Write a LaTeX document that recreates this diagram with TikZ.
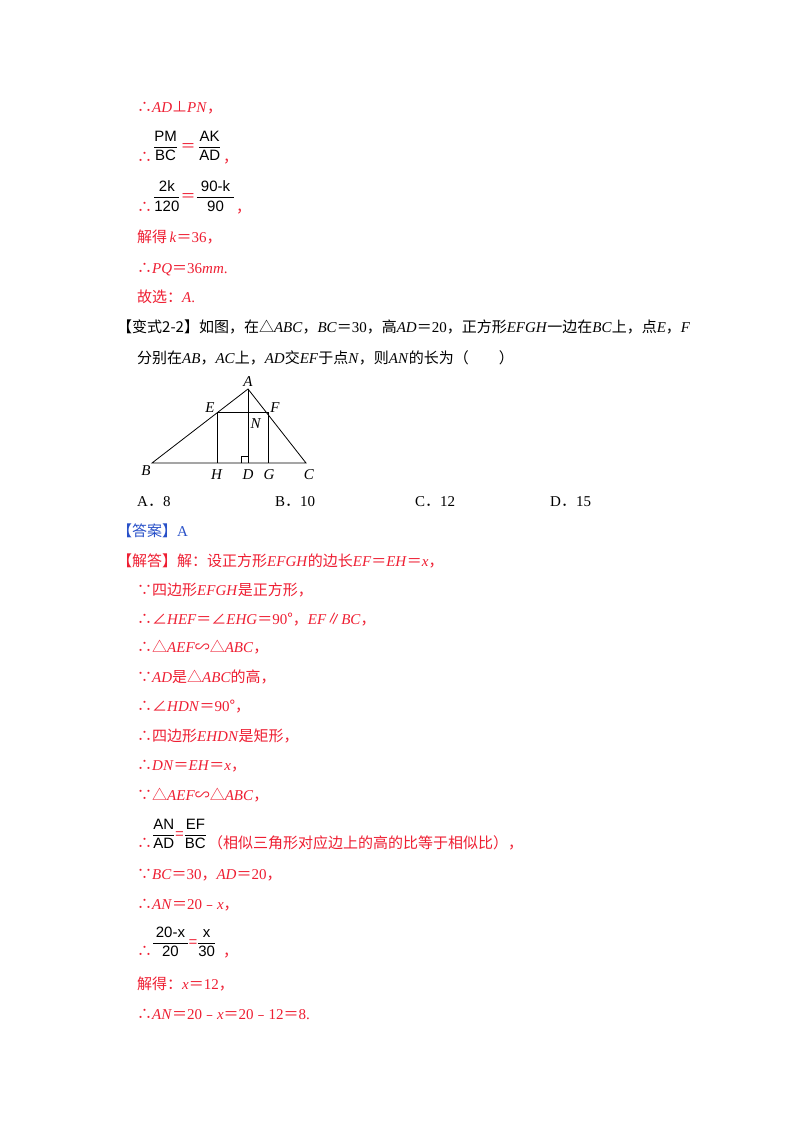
\documentclass[tikz,border=0pt]{standalone}
\usepackage{amsmath}
\usepackage{fontspec}
\setmainfont{Liberation Serif}
\newfontfamily\cjk{Noto Sans CJK SC}
\newfontfamily\fsans{Liberation Sans}
\newcommand{\C}[1]{{\cjk #1}}
\newcommand{\I}[1]{\textit{#1}}
\definecolor{ans}{RGB}{238,30,50}
\definecolor{blu}{RGB}{40,80,200}
\newcommand{\Fr}[2]{\fontsize{15}{18}\selectfont$\dfrac{\text{\fsans\fontsize{15}{18}\selectfont #1}}{\text{\fsans\fontsize{15}{18}\selectfont #2}}$}
\begin{document}
\begin{tikzpicture}[x=1pt,y=-1pt,
  txt/.style={anchor=base west,inner sep=0pt,font=\fontsize{15}{17}\selectfont},
  red/.style={txt,text=ans},
  frac/.style={inner sep=0pt,anchor=west},
  seg/.style={line width=0.8pt}]
\useasboundingbox (0,0) rectangle (800,1132);
\node[red] (l1) at (137,112) {\C{∴}\I{AD}\C{⊥}\I{PN}\C{，}};
\node[red] (l2t) at (137,162) {\C{∴}};
\node[frac] (l2f) at (153,146) {\Fr{PM}{BC}\,\textcolor{ans}{\C{＝}}\,\Fr{AK}{AD}};
\node[red] (l2c) at (223,162) {\C{，}};
\node[red] (l3t) at (137,212) {\C{∴}};
\node[frac] (l3f) at (153,196) {\Fr{\ 2k\ }{120}\textcolor{ans}{\C{＝}}\Fr{\ 90-k\ }{90}};
\node[red] (l3c) at (236,212) {\C{，}};
\node[red] (l4) at (137,242) {\C{解得}\,\I{k}\C{＝}36\C{，}};
\node[red] (l5) at (137,273) {\C{∴}\I{PQ}\C{＝}36\I{mm}.};
\node[red] (l6) at (137,302) {\C{故选：}\I{A}.};
\node[txt] (q1) at (117,332) {\C{【变式2-2】如图，在△}\I{ABC}\C{，}\I{BC}\C{＝}30\C{，高}\I{AD}\C{＝}20\C{，正方形}\I{EFGH}\C{一边在}\I{BC}\C{上，点}\I{E}\C{，}\I{F}};
\node[txt] (q2) at (137,363) {\C{分别在}\I{AB}\C{，}\I{AC}\C{上，}\I{AD}\C{交}\I{EF}\C{于点}\I{N}\C{，则}\I{AN}\C{的长为（\quad\quad）}};
\coordinate (A) at (248,389); \coordinate (B) at (152,463); \coordinate (C) at (306,463);
\coordinate (E) at (217,412); \coordinate (F) at (268,412);
\coordinate (H) at (217,463); \coordinate (G) at (268,463); \coordinate (D) at (248,463);
\draw[seg] (B) -- (A) -- (C) -- cycle;
\draw[seg] (E) -- (F) -- (G) (E) -- (H) (A) -- (D);
\draw[line width=0.6pt] (241,463) |- (248,456);
\node[txt,anchor=base] (la) at (248,386) {\I{A}};
\node[txt,anchor=base] (le) at (210,412) {\I{E}};
\node[txt,anchor=base] (lf) at (275,412) {\I{F}};
\node[txt,anchor=base] (ln) at (256,428) {\I{N}};
\node[txt,anchor=base] (lb) at (146,475) {\I{B}};
\node[txt,anchor=base] (lh) at (217,479) {\I{H}};
\node[txt,anchor=base] (ld) at (248,479) {\I{D}};
\node[txt,anchor=base] (lg) at (269,479) {\I{G}};
\node[txt,anchor=base] (lc) at (309,479) {\I{C}};
\node[txt] (oa) at (137,506) {A\C{．}8};
\node[txt] (ob) at (275,506) {B\C{．}10};
\node[txt] (oc) at (415,506) {C\C{．}12};
\node[txt] (od) at (550,506) {D\C{．}15};
\node[txt,text=blu] (an) at (117,536) {\C{【答案】}A};
\node[red] (s1) at (117,566) {\C{【解答】解：设正方形}\I{EFGH}\C{的边长}\I{EF}\C{＝}\I{EH}\C{＝}\I{x}\C{，}};
\node[red] (s2) at (137,595) {\C{∵四边形}\I{EFGH}\C{是正方形，}};
\node[red] (s3) at (137,624) {\C{∴∠}\I{HEF}\C{＝∠}\I{EHG}\C{＝}90\C{°，}\I{EF}\C{∥}\I{BC}\C{，}};
\node[red] (s4) at (137,652) {\C{∴△}\I{AEF}\C{∽△}\I{ABC}\C{，}};
\node[red] (s5) at (137,682) {\C{∵}\I{AD}\C{是△}\I{ABC}\C{的高，}};
\node[red] (s6) at (137,711) {\C{∴∠}\I{HDN}\C{＝}90\C{°，}};
\node[red] (s7) at (137,741) {\C{∴四边形}\I{EHDN}\C{是矩形，}};
\node[red] (s8) at (137,770) {\C{∴}\I{DN}\C{＝}\I{EH}\C{＝}\I{x}\C{，}};
\node[red] (s9) at (137,800) {\C{∵△}\I{AEF}\C{∽△}\I{ABC}\C{，}};
\node[red] (s10t) at (137,848) {\C{∴}};
\node[frac] (s10f) at (152,834) {\Fr{AN}{AD}\textcolor{ans}{\C{=}}\Fr{EF}{BC}};
\node[red] (s10c) at (208,848) {\C{（相似三角形对应边上的高的比等于相似比），}};
\node[red] (s11) at (137,879) {\C{∵}\I{BC}\C{＝}30\C{，}\I{AD}\C{＝}20\C{，}};
\node[red] (s12) at (137,909) {\C{∴}\I{AN}\C{＝}20\C{﹣}\I{x}\C{，}};
\node[red] (s13t) at (137,956) {\C{∴}};
\node[frac] (s13f) at (152,942) {\Fr{\,20-x\,}{20}\textcolor{ans}{\C{=}}\Fr{\ x\ }{30}};
\node[red] (s13c) at (223,956) {\C{，}};
\node[red] (s14) at (137,989) {\C{解得：}\I{x}\C{＝}12\C{，}};
\node[red] (s15) at (137,1019) {\C{∴}\I{AN}\C{＝}20\C{﹣}\I{x}\C{＝}20\C{﹣}12\C{＝}8.};
\end{tikzpicture}
\end{document}
